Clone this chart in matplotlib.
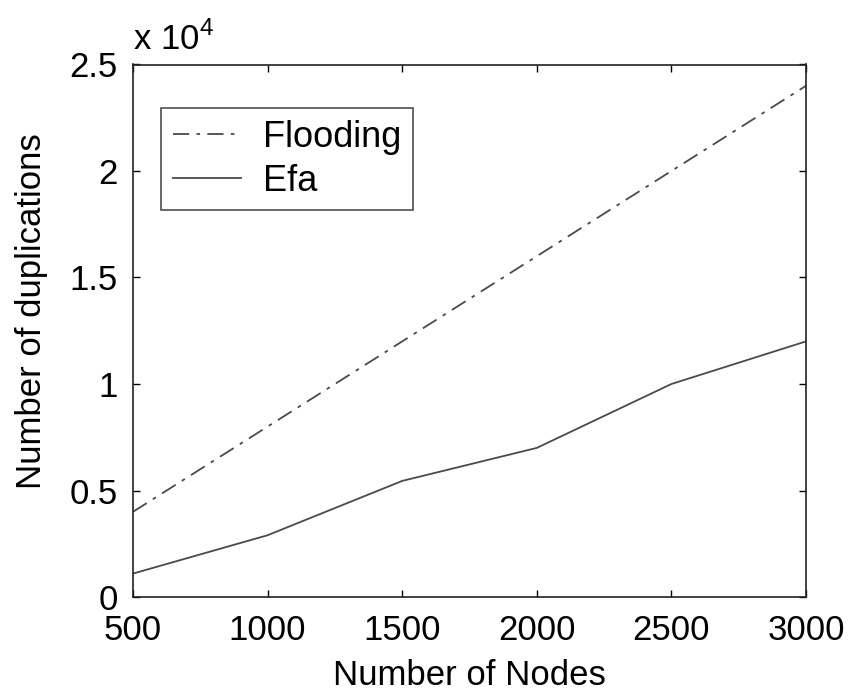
import matplotlib
matplotlib.use('Agg')
import matplotlib.pyplot as plt
from matplotlib.ticker import FuncFormatter

nodes = [500, 1000, 1500, 2000, 2500, 3000]
flooding = [4000, 8000, 12000, 16000, 20000, 24000]
efa = [1100, 2900, 5450, 7000, 10000, 12000]
yticks = [0, 5000, 10000, 15000, 20000, 25000]

plt.rcParams['font.family'] = ['Liberation Sans', 'DejaVu Sans']
plt.rcParams['mathtext.fontset'] = 'custom'
plt.rcParams['mathtext.rm'] = 'Liberation Sans'

fig = plt.figure(figsize=(8.62, 6.94), dpi=100)
ax = fig.add_axes([133/862, 97/694, 673/862, 532.5/694])

ax.plot(nodes, flooding, color='#4a4a4a', lw=1.3, linestyle=(0, (9, 4, 2, 4)), label='Flooding')
ax.plot(nodes, efa, color='#4a4a4a', lw=1.3, label='Efa')

ax.set_xlim(500, 3000)
ax.set_ylim(0, 25000)
ax.set_xticks(nodes)
ax.set_yticks(yticks)
ax.yaxis.set_major_formatter(FuncFormatter(lambda v, p: f'{v/1e4:g}'))
ax.tick_params(direction='in', top=True, right=True, labelsize=25, length=5, width=1)
ax.tick_params(axis='x', pad=12)
ax.tick_params(axis='y', pad=11)
for s in ax.spines.values():
    s.set_linewidth(1.2)
    s.set_color('#222222')

ax.set_xlabel('Number of Nodes', fontsize=25)
ax.set_ylabel('Number of duplications', fontsize=25)
ax.xaxis.set_label_coords(0.5, -0.116)
ax.yaxis.set_label_coords(-0.126, 0.537)
ax.text(0.0, 1.027, r'x 10$^{4}$', transform=ax.transAxes, fontsize=25, ha='left', va='baseline')

leg = ax.legend(loc='upper left', bbox_to_anchor=(0.0416, 0.918), borderaxespad=0, fontsize=26,
                frameon=True, fancybox=False, edgecolor='#222222', handlelength=1.9, borderpad=0.32,
                labelspacing=0.25, handletextpad=0.6)
leg.get_frame().set_linewidth(1.2)

fig.savefig('out.png', dpi=100)
